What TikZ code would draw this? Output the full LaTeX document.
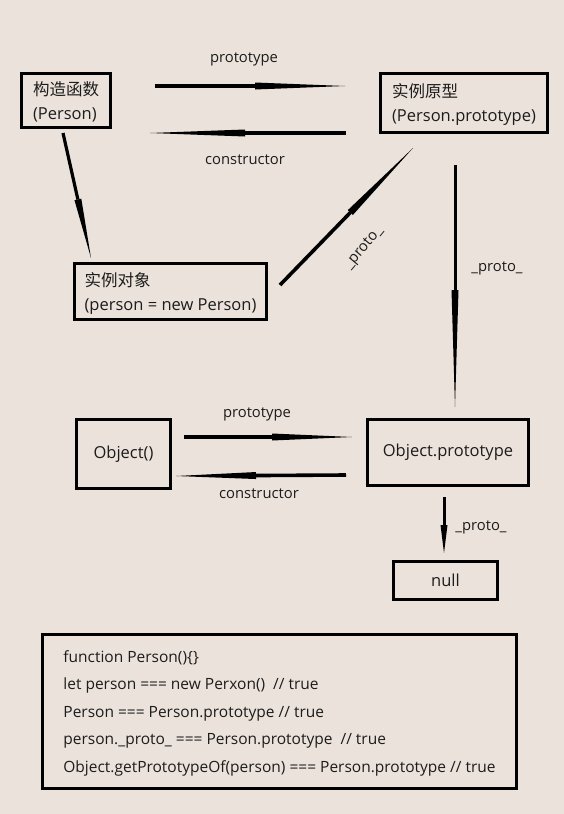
\documentclass[tikz,border=0pt]{standalone}
\usepackage{fontspec}
\setmainfont{Open Sans}
\newfontfamily\cjk{Noto Sans CJK SC}
\usetikzlibrary{arrows.meta}
\definecolor{paper}{RGB}{235,227,219}
\definecolor{ink}{RGB}{28,28,28}

\begin{document}
\begin{tikzpicture}[x=1pt, y=-1pt,
    box/.style={draw=black, line width=3.2pt, inner sep=0pt, align=left,
        text=ink, font=\fontsize{16.5}{24}\selectfont},
    lbl/.style={text=ink, font=\fontsize{14.8}{16}\selectfont, inner sep=0pt},
    brush/.style={line width=3.6pt, -{Triangle[length=#1, width=7pt, line width=0pt]}}
]
\fill[paper] (0,0) rectangle (564,814);
\useasboundingbox (0,0) rectangle (564,814);

% boxes
\node[box, minimum width=89pt, minimum height=54pt, text depth=-6pt] (ctor)  at (66,100.5)  {{\cjk 构造函数}\\(Person)};
\node[box, minimum width=167pt, minimum height=59pt, text depth=-8pt] (proto) at (464,103)   {{\cjk 实例原型}\\(Person.prototype)};
\node[box, minimum width=192pt, minimum height=56pt, text depth=0pt] (inst)  at (170.5,291.5) {{\cjk 实例对象}\\(person = new Person)};
\node[box, minimum width=94pt, minimum height=69pt]  (obj)   at (123.5,454) {Object()};
\node[box, minimum width=161pt, minimum height=66pt] (objp)  at (448,452.5) {Object.prototype};
\node[box, minimum width=104pt, minimum height=38pt] (null)  at (445.5,580.5) {null};
\node[box, minimum width=474pt, minimum height=154pt, text depth=-2pt, font=\fontsize{15.5}{27.5}\selectfont] (code) at (279.5,711.5)
    {function Person()\{\}\\
     let person === new Perxon()~~// true\\
     Person === Person.prototype // true\\
     person.\_proto\_ === Person.prototype~~// true\\
     Object.getPrototypeOf(person) === Person.prototype // true};

% free ends of the strokes
\coordinate (p1a) at (155,86);   \coordinate (p1b) at (345,86);
\coordinate (c1a) at (346,133);  \coordinate (c1b) at (150,133);
\coordinate (n1a) at (63,133);   \coordinate (n1b) at (91,258);
\coordinate (u1a) at (280,285);  \coordinate (u1b) at (413,148);
\coordinate (u2a) at (455,165);  \coordinate (u2b) at (455,407);
\coordinate (p2a) at (184,437);  \coordinate (p2b) at (352,437);
\coordinate (c2a) at (346,475);  \coordinate (c2b) at (176,476);
\coordinate (u3a) at (444,497);  \coordinate (u3b) at (444,553);

\draw[brush=90pt] (p1a) -- (p1b);
\draw[brush=95pt] (c1a) -- (c1b);
\draw[brush=60pt, line width=3.2pt] (n1a) -- (n1b);
\draw[brush=90pt] (u1a) -- (u1b);
\draw[brush=117pt, line width=3pt] (u2a) -- (u2b);
\draw[brush=80pt] (p2a) -- (p2b);
\draw[brush=80pt] (c2a) -- (c2b);
\draw[brush=28pt, line width=3pt] (u3a) -- (u3b);

% labels
\node[lbl] (l1) at (244,59)  {prototype};
\node[lbl] (l2) at (245,160) {constructor};
\node[lbl, rotate=50] (l3) at (364,248) {\_proto\_};
\node[lbl] (l4) at (497,268) {\_proto\_};
\node[lbl] (l5) at (257,414) {prototype};
\node[lbl] (l6) at (259,494) {constructor};
\node[lbl] (l7) at (481,527) {\_proto\_};
\end{tikzpicture}
\end{document}
